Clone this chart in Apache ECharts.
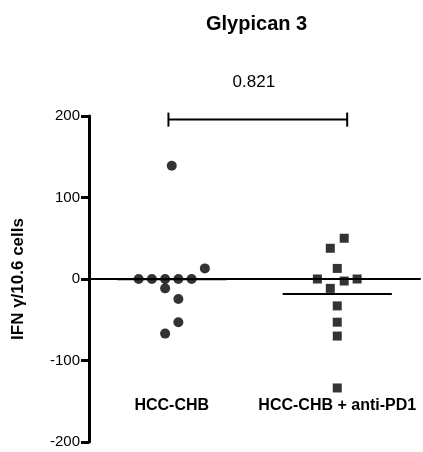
<!DOCTYPE html>
<html>
<head>
<meta charset="utf-8">
<script src="https://cdn.jsdelivr.net/npm/echarts@6/dist/echarts.min.js"></script>
<style>
  html, body { margin: 0; padding: 0; background: #fff; }
  #main { width: 423px; height: 452px; }
</style>
</head>
<body>
<div id="main"></div>
<script>
// groups on the x axis
const groups = ['HCC-CHB', 'HCC-CHB + anti-PD1'];
// IFN gamma values
const chbValues = [0, 0, 0, 0, 0, 13, -11.5, -24.6, -53, -67, 139];
const pd1Values = [50, 37.7, 13, 0, 0, -2.5, -11.5, -33, -53, -70, -133.7];
// scatter jitter (in group units) as placed by the original plot
const chbJitter = [-0.2, -0.12, -0.04, 0.04, 0.12, 0.2, -0.04, 0.04, 0.04, -0.04, 0];
const pd1Jitter = [0.042, -0.042, 0, -0.12, 0.12, 0.042, -0.042, 0, 0, 0, 0];
// y ticks
const yTicks = [-200, -100, 0, 100, 200];
// p value of the comparison
const pValue = '0.821';
const bracketY = 195.6;

const font = 'Liberation Sans, Arial, sans-serif';
const chart = echarts.init(document.getElementById('main'));

function mean(arr) {
  let s = 0;
  arr.forEach(function (v) { s += v; });
  return s / arr.length;
}

const chbData = chbValues.map(function (v, i) { return [1 + chbJitter[i], v]; });
const pd1Data = pd1Values.map(function (v, i) { return [2 + pd1Jitter[i], v]; });
const meanData = [[1, mean(chbValues)], [2, mean(pd1Values)]];

const option = {
  backgroundColor: '#fff',
  animation: false,
  title: {
    text: 'Glypican 3',
    left: 201,
    top: 9,
    textStyle: { fontFamily: font, fontSize: 20, fontWeight: 'bold', color: '#000' }
  },
  grid: { left: 89, right: 3, top: 116, bottom: 10 },
  xAxis: [
    {
      type: 'value',
      min: 0.5,
      max: 2.5,
      axisLine: { show: true, onZero: true, lineStyle: { color: '#000', width: 2 } },
      axisTick: { show: false },
      axisLabel: { show: false },
      splitLine: { show: false }
    },
    {
      type: 'category',
      data: groups,
      position: 'bottom',
      boundaryGap: true,
      axisLine: { show: false, onZero: false },
      axisTick: { show: false },
      axisLabel: {
        inside: true,
        interval: 0,
        hideOverlap: false,
        margin: 28,
        fontFamily: font,
        fontSize: 16,
        fontWeight: 'bold',
        color: '#000'
      },
      splitLine: { show: false }
    }
  ],
  yAxis: {
    type: 'value',
    min: yTicks[0],
    max: yTicks[yTicks.length - 1],
    interval: 100,
    name: 'IFN γ/10.6 cells',
    nameLocation: 'middle',
    nameGap: 62,
    nameTextStyle: { fontFamily: font, fontSize: 17, fontWeight: 'bold', color: '#000' },
    axisLine: { show: true, onZero: false, lineStyle: { color: '#000', width: 3 } },
    axisTick: { show: true, length: 8, lineStyle: { color: '#000', width: 3 } },
    axisLabel: { margin: 9, fontFamily: font, fontSize: 15, color: '#000' },
    splitLine: { show: false }
  },
  series: [
    {
      name: groups[0],
      type: 'scatter',
      xAxisIndex: 0,
      symbol: 'circle',
      symbolSize: 10,
      itemStyle: { color: '#000' },
      data: chbData,
      z: 3
    },
    {
      name: groups[1],
      type: 'scatter',
      xAxisIndex: 0,
      symbol: 'rect',
      symbolSize: 9,
      itemStyle: { color: '#000' },
      data: pd1Data,
      z: 3
    },
    {
      // mean lines
      type: 'custom',
      xAxisIndex: 0,
      data: meanData,
      renderItem: function (params, api) {
        const a = api.coord([api.value(0) - 0.33, api.value(1)]);
        const b = api.coord([api.value(0) + 0.33, api.value(1)]);
        return {
          type: 'line',
          shape: { x1: a[0], y1: a[1], x2: b[0], y2: b[1] },
          style: { stroke: '#000', lineWidth: 2 }
        };
      },
      z: 2
    },
    {
      // significance bracket
      type: 'custom',
      xAxisIndex: 0,
      data: [[0.98, bracketY, 2.06]],
      encode: { x: 0, y: 1 },
      renderItem: function (params, api) {
        const a = api.coord([api.value(0), api.value(1)]);
        const b = api.coord([api.value(2), api.value(1)]);
        return {
          type: 'group',
          children: [
            { type: 'line', shape: { x1: a[0], y1: a[1], x2: b[0], y2: b[1] }, style: { stroke: '#000', lineWidth: 2 } },
            { type: 'line', shape: { x1: a[0], y1: a[1] - 7, x2: a[0], y2: a[1] + 7 }, style: { stroke: '#000', lineWidth: 2 } },
            { type: 'line', shape: { x1: b[0], y1: b[1] - 7, x2: b[0], y2: b[1] + 7 }, style: { stroke: '#000', lineWidth: 2 } },
            {
              type: 'text',
              x: (a[0] + b[0]) / 2 - 4,
              y: a[1] - 37,
              style: {
                text: pValue,
                align: 'center',
                verticalAlign: 'middle',
                font: '17px ' + font,
                fill: '#000'
              }
            }
          ]
        };
      },
      z: 2
    }
  ]
};

chart.setOption(option);
</script>
</body>
</html>
